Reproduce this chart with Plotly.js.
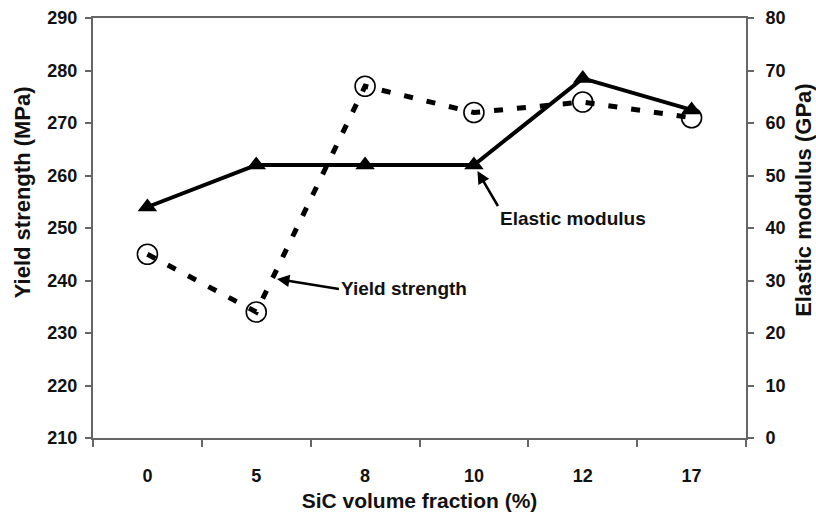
<!DOCTYPE html>
<html>
<head>
<meta charset="utf-8">
<script src="https://cdn.plot.ly/plotly-3.0.1.min.js"></script>
<style>html,body{margin:0;padding:0;background:#fff;}#chart{width:816px;height:517px;}</style>
</head>
<body>
<div id="chart"></div>
<script>
const categories = ['0', '5', '8', '10', '12', '17'];
const yieldStrength = [245, 234, 277, 272, 274, 271];
const elasticModulus = [44, 52, 52, 52, 68.5, 62.5];
const yieldTicks = [210, 220, 230, 240, 250, 260, 270, 280, 290];
const modulusTicks = [0, 10, 20, 30, 40, 50, 60, 70, 80];

const F = 'Liberation Sans, Arial, sans-serif';
const tickFont = {family: F, size: 18, color: '#111', weight: 'bold'};
const titleFont = {family: F, size: 21, color: '#111', weight: 'bold'};
const yTitleFont = {family: F, size: 22, color: '#111', weight: 'bold'};
const noteFont = {family: F, size: 19, color: '#111', weight: 'bold'};
const axisColor = '#666';

const traces = [
  {
    x: categories, y: yieldStrength, yaxis: 'y', type: 'scatter', mode: 'lines+markers',
    name: 'Yield strength',
    line: {color: '#000', width: 5, dash: '9px,14px'},
    marker: {symbol: 'circle-open', size: 20, color: '#000', line: {width: 1.6, color: '#000'}}
  },
  {
    x: categories, y: elasticModulus, yaxis: 'y2', type: 'scatter', mode: 'lines+markers',
    name: 'Elastic modulus',
    line: {color: '#000', width: 4},
    marker: {symbol: 'triangle-up', size: 17, color: '#000'}
  }
];

const layout = {
  width: 816, height: 517,
  margin: {l: 93, r: 70, t: 18, b: 79},
  paper_bgcolor: '#fff', plot_bgcolor: '#fff',
  showlegend: false,
  xaxis: {
    type: 'category', categoryarray: categories, range: [-0.5, 5.5],
    tickson: 'boundaries', ticks: 'outside', ticklen: 7, tickwidth: 2, tickcolor: axisColor,
    showline: true, linecolor: axisColor, linewidth: 2, mirror: true,
    showgrid: false, zeroline: false,
    tickfont: tickFont, ticklabelstandoff: 20,
    title: {text: 'SiC volume fraction (%)', font: titleFont, standoff: 9}
  },
  yaxis: {
    range: [210, 290], tickvals: yieldTicks, ticks: 'outside', ticklen: 6, tickwidth: 2, tickcolor: axisColor,
    showline: true, linecolor: axisColor, linewidth: 2,
    showgrid: false, zeroline: false, tickfont: tickFont, ticklabelstandoff: 4
  },
  yaxis2: {
    range: [0, 80], tickvals: modulusTicks, overlaying: 'y', side: 'right',
    ticks: 'outside', ticklen: 6, tickwidth: 2, tickcolor: axisColor,
    showline: true, linecolor: axisColor, linewidth: 2,
    showgrid: false, zeroline: false, tickfont: tickFont, ticklabelstandoff: 8
  },
  annotations: [
    {
      x: 0, y: 0.585, xref: 'paper', yref: 'paper', xshift: -71, xanchor: 'center', yanchor: 'middle',
      text: 'Yield strength (MPa)', textangle: -90, showarrow: false, font: yTitleFont
    },
    {
      x: 1, y: 0.567, xref: 'paper', yref: 'paper', xshift: 58, xanchor: 'center', yanchor: 'middle',
      text: 'Elastic modulus (GPa)', textangle: -90, showarrow: false, font: yTitleFont
    },
    {
      x: 3, y: 52, xref: 'x', yref: 'y2', text: 'Elastic modulus',
      showarrow: true, arrowhead: 2, arrowsize: 1, arrowwidth: 2.5, arrowcolor: '#000',
      standoff: 7, ax: 24, ay: 41, xanchor: 'left', yanchor: 'top',
      font: noteFont
    },
    {
      x: 1.19, y: 240.3, xref: 'x', yref: 'y', text: 'Yield strength',
      showarrow: true, arrowhead: 2, arrowsize: 1, arrowwidth: 2.5, arrowcolor: '#000',
      standoff: 0, ax: 62, ay: 10, xanchor: 'left', yanchor: 'middle',
      font: noteFont
    }
  ]
};

Plotly.newPlot('chart', traces, layout, {staticPlot: true, displayModeBar: false});
</script>
</body>
</html>
